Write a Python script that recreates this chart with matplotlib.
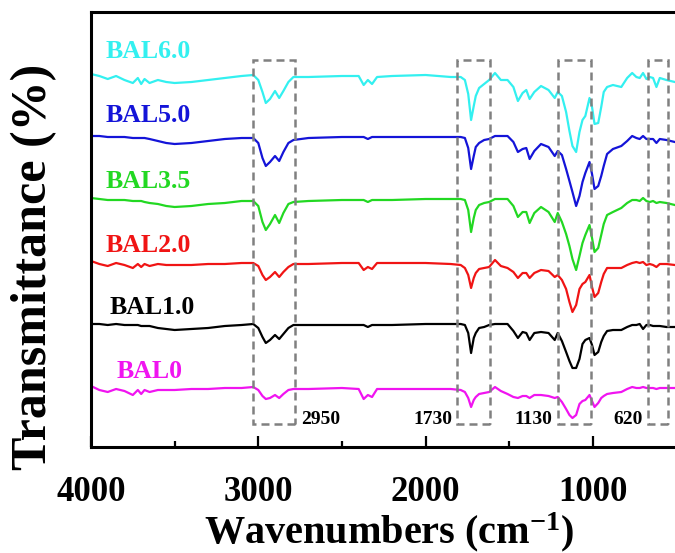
import matplotlib
matplotlib.use("Agg")
import matplotlib.pyplot as plt
from matplotlib.patches import Rectangle
from matplotlib.ticker import MultipleLocator, NullLocator

# wavenumber grid (cm-1) shared by all spectra
wavenumbers = [
    4000, 3950, 3900, 3850, 3800, 3750, 3720, 3700, 3680, 3650,
    3600, 3550, 3500, 3400, 3300, 3200, 3100, 3030, 3000, 2975,
    2955, 2930, 2900, 2875, 2850, 2820, 2790, 2700, 2500, 2400,
    2370, 2345, 2320, 2290, 2200, 2000, 1850, 1790, 1765, 1745,
    1728, 1712, 1700, 1680, 1650, 1620, 1585, 1550, 1510, 1475,
    1448, 1420, 1398, 1378, 1350, 1310, 1265, 1228, 1210, 1185,
    1160, 1140, 1122, 1100, 1080, 1062, 1045, 1020, 1005, 990,
    968, 950, 935, 915, 880, 830, 795, 765, 740, 720,
    700, 680, 660, 640, 620, 600, 560, 510,
]

# transmittance relative to each curve's own baseline (arbitrary units)
bal60 = [
    0, -2, -5, -2, -6, -9, -4, -10, -5, -9,
    -6, -8, -9, -8, -6, -4, -2, -1, -6, -18,
    -29, -25, -17, -24, -17, -8, -3, -3, -2, -2,
    -11, -6, -10, -3, -2, -1, -3, -3, -6, -20,
    -46, -32, -22, -14, -10, -6, 1, -6, -6, -13,
    -27, -19, -16, -25, -18, -12, -16, -24, -18, -22,
    -38, -57, -72, -78, -58, -46, -42, -24, -33, -50,
    -49, -33, -18, -13, -11, -13, -4, 1, -3, -4,
    1, -5, -3, -4, -13, -4, -6, -8,
]
bal50 = [
    0, 0, -1, -1, -1, -2, -2, -2, -2, -3,
    -5, -7, -8, -7, -5, -3, -2, -2, -7, -22,
    -30, -26, -20, -25, -16, -7, -4, -2, -1, -1,
    -1, -3, -1, -1, -1, -1, -1, -1, -2, -12,
    -33, -20, -11, -7, -4, -3, 0, 0, 0, -6,
    -16, -13, -12, -23, -15, -8, -11, -20, -15, -19,
    -33, -45, -56, -70, -60, -46, -37, -26, -38, -53,
    -50, -40, -30, -18, -13, -10, -5, 0, -2, -3,
    0, -3, -3, -3, -7, -3, -4, -6,
]
bal35 = [
    0, -1, -2, -2, -2, -3, -3, -3, -4, -5,
    -6, -8, -9, -8, -6, -5, -3, -3, -8, -24,
    -32, -26, -17, -25, -15, -6, -4, -3, -2, -2,
    -2, -4, -2, -2, -2, -1, -1, -1, -2, -12,
    -34, -20, -12, -7, -5, -4, -1, -1, -1, -8,
    -19, -14, -14, -25, -15, -9, -14, -24, -15, -24,
    -36, -48, -61, -72, -58, -45, -37, -27, -40, -54,
    -50, -37, -26, -17, -14, -10, -5, -2, -2, -3,
    0, -3, -4, -3, -5, -4, -5, -7,
]
bal20 = [
    0, -3, -5, -2, -4, -7, -3, -6, -3, -5,
    -3, -4, -4, -4, -3, -3, -2, -2, -5, -14,
    -19, -16, -11, -16, -11, -6, -3, -3, -2, -2,
    -9, -6, -8, -2, -2, -2, -3, -4, -7, -14,
    -27, -17, -12, -8, -7, -6, 1, -5, -7, -11,
    -17, -12, -12, -17, -12, -9, -10, -16, -14, -19,
    -28, -41, -51, -44, -28, -23, -21, -14, -26, -36,
    -32, -21, -13, -7, -7, -7, -4, -2, -1, -2,
    -1, -4, -3, -4, -6, -3, -3, -4,
]
bal10 = [
    0, 0, -1, 0, -1, -1, -1, -2, -2, -2,
    -4, -5, -6, -5, -4, -2, -1, 0, -4, -13,
    -19, -16, -11, -15, -10, -4, -1, -1, -1, -1,
    -1, -3, -1, -1, -1, 0, 0, 0, -1, -9,
    -29, -14, -9, -4, -3, -1, 0, 0, 0, -7,
    -14, -8, -9, -16, -9, -8, -9, -16, -9, -17,
    -28, -37, -44, -44, -35, -20, -16, -14, -21, -31,
    -28, -18, -12, -7, -6, -6, -3, -1, -1, 0,
    -5, -1, -1, -2, -2, -2, -3, -3,
]
bal0 = [
    0, -4, -6, -3, -5, -9, -4, -8, -4, -6,
    -4, -4, -4, -3, -3, -2, -2, -1, -4, -10,
    -13, -12, -9, -12, -8, -4, -3, -3, -2, -3,
    -13, -9, -11, -3, -3, -3, -3, -4, -6, -12,
    -21, -14, -11, -8, -7, -6, -1, -5, -8, -11,
    -12, -10, -10, -12, -9, -9, -10, -12, -11, -16,
    -23, -29, -32, -29, -18, -15, -14, -9, -15, -21,
    -17, -12, -10, -8, -7, -6, -3, -1, -2, -2,
    -1, -2, -2, -2, -3, -2, -2, -2,
]

names = ["BAL6.0", "BAL5.0", "BAL3.5", "BAL2.0", "BAL1.0", "BAL0"]
spectra = [bal60, bal50, bal35, bal20, bal10, bal0]
offsets = [373, 311, 249, 186, 123, 61]
colors = ["#33f0f0", "#1414d8", "#22d822", "#f01414", "#000000", "#f014f0"]
label_pos = [(3910, 395), (3910, 332), (3910, 265), (3910, 202), (3892, 139), (3850, 75)]

# dashed boxes: (left wn, right wn) and annotation
boxes = [(3030, 2780), (1815, 1615), (1210, 1012), (672, 552)]
box_labels = ["2950", "1730", "1130", "620"]
box_text_pos = [(2745, "left"), (1838, "right"), (1240, "right"), (700, "right")]

SERIF = "Liberation Serif"


def main() -> None:
    fig = plt.figure(figsize=(6.75, 5.53), dpi=100)
    ax = fig.add_axes([91 / 675, 106 / 553, 1 - 91 / 675, 435 / 553])

    for name, vals, off, col, (lx, ly) in zip(names, spectra, offsets, colors, label_pos):
        ax.plot(wavenumbers, [v + off for v in vals], color=col, lw=1.6, zorder=2)
        ax.text(lx, ly, name, color=col, fontsize=18.5, fontweight="bold",
                family=SERIF, ha="left", va="center")

    for (x0, x1), lab, (tx, ha) in zip(boxes, box_labels, box_text_pos):
        ax.add_patch(Rectangle((x1, 23), x0 - x1, 364, fill=False,
                               edgecolor="#808080", lw=1.8,
                               linestyle=(0, (3.2, 2.0)), zorder=3))
        ax.text(tx, 27, lab, fontsize=14, fontweight="bold", family=SERIF,
                ha=ha, va="center", color="black")

    ax.set_xlim(4000, 509)
    ax.set_ylim(0, 435)
    ax.xaxis.set_major_locator(MultipleLocator(1000))
    ax.xaxis.set_minor_locator(MultipleLocator(500))
    ax.yaxis.set_major_locator(NullLocator())
    ax.tick_params(axis="x", which="major", direction="in", length=8, width=1.6, pad=21)
    ax.tick_params(axis="x", which="minor", direction="in", length=4, width=1.6)
    for lab in ax.get_xticklabels():
        lab.set_family(SERIF)
        lab.set_fontweight("bold")
        lab.set_fontsize(25)

    for side in ("left", "top", "bottom"):
        ax.spines[side].set_linewidth(2.2)
    ax.spines["right"].set_visible(False)

    ax.set_xlabel("Wavenumbers (cm$\\mathregular{^{-1}}$)", family=SERIF,
                  fontweight="bold", fontsize=29)
    ax.xaxis.set_label_coords(0.51, -0.145, transform=ax.transAxes)
    ax.set_ylabel("Transmittance (%)", family=SERIF, fontweight="bold",
                  fontsize=36)
    ax.yaxis.set_label_coords(-0.058, 0.414, transform=ax.transAxes)

    fig.savefig("out.png", dpi=100)


if __name__ == "__main__":
    main()
